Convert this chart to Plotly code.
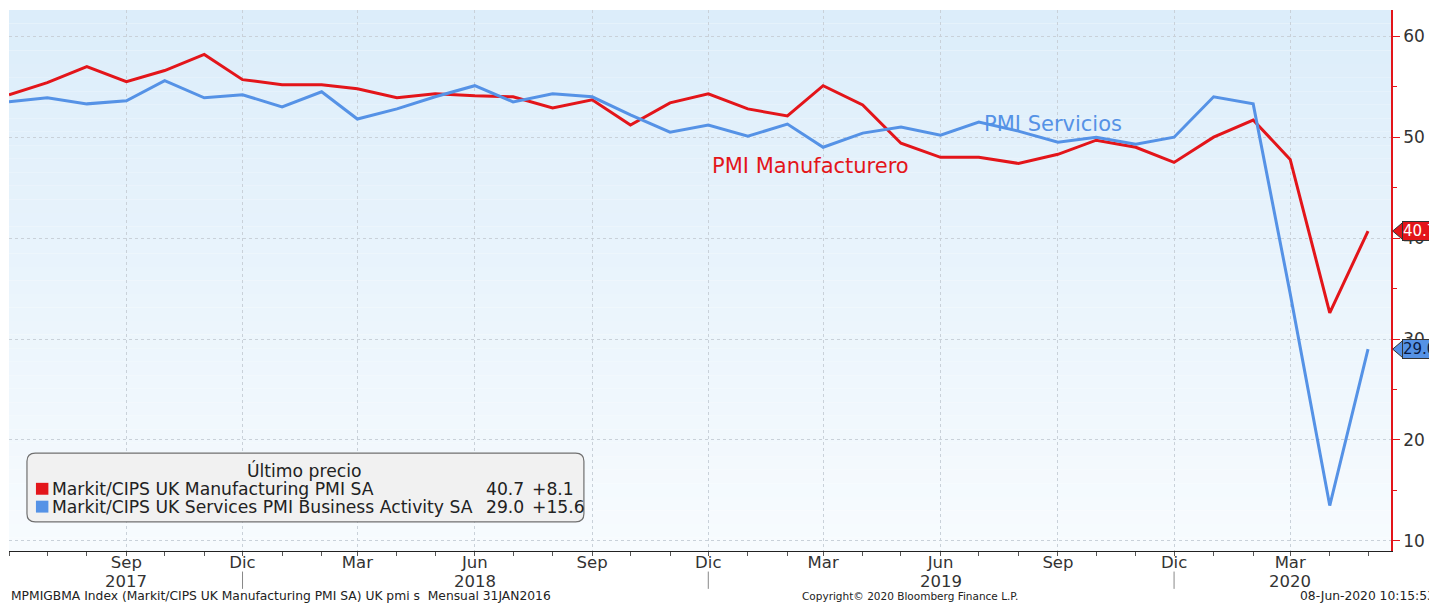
import pandas as pd
import plotly.graph_objects as go

# monthly PMI readings, Jun 2017 .. May 2020
months = pd.date_range("2017-06-01", periods=36, freq="MS")
manufacturing = [54.2, 55.4, 57.0, 55.5, 56.6, 58.2, 55.7, 55.2, 55.2, 54.8, 53.9, 54.3,
                 54.1, 54.0, 52.9, 53.7, 51.2, 53.4, 54.3, 52.8, 52.1, 55.1, 53.2, 49.4,
                 48.0, 48.0, 47.4, 48.3, 49.7, 49.0, 47.5, 50.0, 51.7, 47.8, 32.6, 40.7]
services = [53.5, 53.9, 53.3, 53.6, 55.6, 53.9, 54.2, 53.0, 54.5, 51.8, 52.8, 54.0,
            55.1, 53.5, 54.3, 54.0, 52.2, 50.5, 51.2, 50.1, 51.3, 49.0, 50.4, 51.0,
            50.2, 51.5, 50.6, 49.5, 50.0, 49.3, 50.0, 54.0, 53.3, 34.5, 13.5, 29.0]

tick_dates = pd.date_range("2017-09-01", "2020-03-01", freq="3MS")
tick_text = ["Sep", "Dic", "Mar", "Jun", "Sep", "Dic", "Mar", "Jun", "Sep", "Dic", "Mar"]
year_labels = ["2017", "2018", "2019", "2020"]
year_label_dates = ["2017-09-01", "2018-06-01", "2019-06-01", "2020-03-01"]
year_breaks = ["2017-12-01", "2018-12-01", "2019-12-01"]

legend_title = "Último precio"
legend_rows = [("Markit/CIPS UK Manufacturing PMI SA", "40.7", "+8.1"),
               ("Markit/CIPS UK Services PMI Business Activity SA", "29.0", "+15.6")]

RED = "#e3151a"
BLUE = "#5592e6"
FONT = "DejaVu Sans"
TXT = "#222"

fig = go.Figure()
fig.add_trace(go.Scatter(x=months, y=manufacturing, mode="lines",
                         line=dict(color=RED, width=3), name="PMI Manufacturero"))
fig.add_trace(go.Scatter(x=months, y=services, mode="lines",
                         line=dict(color=BLUE, width=3), name="PMI Servicios"))

shapes = []
# light blue gradient background of the plot area
n = 40
top, bot = (220, 237, 250), (247, 251, 254)
for i in range(n):
    f = i / (n - 1)
    c = tuple(round(bot[k] + (top[k] - bot[k]) * f) for k in range(3))
    shapes.append(dict(type="rect", xref="paper", yref="paper", x0=0, x1=1,
                       y0=i / n, y1=(i + 1) / n, line=dict(width=0),
                       fillcolor="rgb(%d,%d,%d)" % c, layer="below"))

# year separators under the axis
for d in year_breaks:
    shapes.append(dict(type="line", xref="x", yref="paper", x0=d, x1=d,
                       y0=-0.038, y1=-0.07, line=dict(color="#888", width=1)))

# legend box
lx0, lx1, ly0, ly1, r = 0.013, 0.416, 0.054, 0.181, 0.006
shapes.append(dict(type="path", xref="paper", yref="paper",
                   path=(f"M {lx0+r},{ly0} L {lx1-r},{ly0} Q {lx1},{ly0} {lx1},{ly0+r*2.5} "
                         f"L {lx1},{ly1-r*2.5} Q {lx1},{ly1} {lx1-r},{ly1} "
                         f"L {lx0+r},{ly1} Q {lx0},{ly1} {lx0},{ly1-r*2.5} "
                         f"L {lx0},{ly0+r*2.5} Q {lx0},{ly0} {lx0+r},{ly0} Z"),
                   line=dict(color="#707070", width=1.2), fillcolor="#f1f1f1"))

leg_font = dict(family=FONT, size=17.2, color=TXT)
annotations = [
    dict(text=legend_title, x=0.214, y=0.148, xref="paper", yref="paper",
         xanchor="center", yanchor="middle", showarrow=False, font=leg_font),
]
for (label, last, chg), color, yy in zip(legend_rows, [RED, BLUE], [0.115, 0.082]):
    shapes.append(dict(type="rect", xref="paper", yref="paper",
                       x0=0.0195, x1=0.0285, y0=yy - 0.011, y1=yy + 0.011,
                       line=dict(width=0), fillcolor=color))
    annotations.append(dict(text=label, x=0.0318, xshift=-3, y=yy, xref="paper", yref="paper",
                            xanchor="left", yanchor="middle", showarrow=False, font=leg_font))
    annotations.append(dict(text=last, x=0.3686, xshift=8, y=yy, xref="paper", yref="paper",
                            xanchor="right", yanchor="middle", showarrow=False, font=leg_font))
    annotations.append(dict(text=chg, x=0.374, xshift=4, y=yy, xref="paper", yref="paper",
                            xanchor="left", yanchor="middle", showarrow=False, font=leg_font))

# series labels in the chart
annotations.append(dict(text="PMI Manufacturero", x="2019-02-19", y=47.1,
                        xanchor="center", yanchor="middle",
                        showarrow=False, font=dict(family=FONT, size=21, color=RED)))
annotations.append(dict(text="PMI Servicios", x="2019-08-28", y=51.3,
                        xanchor="center", yanchor="middle",
                        showarrow=False, font=dict(family=FONT, size=21, color=BLUE)))

# year labels under the month ticks
for lab, d in zip(year_labels, year_label_dates):
    annotations.append(dict(text=lab, x=d, y=-0.056, xref="x", yref="paper",
                            xanchor="center", yanchor="middle", showarrow=False,
                            font=dict(family=FONT, size=16.5, color="#333")))

# last value tags on the right axis
for val, fill, txt in [(manufacturing[-1], RED, "white"), (services[-1], BLUE, "#0a1a40")]:
    shapes.append(dict(type="path", xref="paper", yref="y",
                       path=f"M 1.0012,{val} L 1.0085,{val + 0.85} L 1.0085,{val - 0.85} Z",
                       line=dict(color="#333", width=1), fillcolor=fill))
    annotations.append(dict(text=f"{val:.1f}", x=1.0078, y=val, xref="paper", yref="y",
                            xanchor="left", yanchor="middle", showarrow=False, bgcolor=fill,
                            bordercolor="#333", borderwidth=1, borderpad=0,
                            font=dict(family=FONT, size=15, color=txt)))

# footer
foot = dict(family=FONT, size=12.3, color=TXT)
annotations += [
    dict(text="MPMIGBMA Index (Markit/CIPS UK Manufacturing PMI SA) UK pmi s  Mensual 31JAN2016",
         x=0.0, xshift=0, y=-0.083, xref="paper", yref="paper", xanchor="left", yanchor="middle",
         showarrow=False, font=foot),
    dict(text="Copyright© 2020 Bloomberg Finance L.P.", x=0.652, y=-0.083,
         xref="paper", yref="paper", xanchor="center", yanchor="middle", showarrow=False,
         font=dict(family=FONT, size=10.5, color=TXT)),
    dict(text="08-Jun-2020 10:15:53", x=1.0, xshift=46, y=-0.083, xref="paper", yref="paper",
         xanchor="right", yanchor="middle", showarrow=False, font=foot),
]

# the page body adds an 8px offset, so the figure is sized to the visible window
fig.update_layout(
    width=1429, height=595,
    margin=dict(l=1, r=46, t=2, b=52, autoexpand=False),
    paper_bgcolor="white", plot_bgcolor="rgba(0,0,0,0)",
    showlegend=False,
    shapes=shapes, annotations=annotations,
    font=dict(family=FONT, size=16, color="#333"),
)
fig.update_xaxes(
    range=["2017-06-01", "2020-05-19"], automargin=False,
    tickvals=tick_dates, ticktext=tick_text, ticklabelstandoff=-8,
    showline=True, linecolor="#222", linewidth=1,
    ticks="outside", ticklen=4, tickcolor="#555",
    minor=dict(dtick="M1", ticks="outside", ticklen=4, tickcolor="#555", showgrid=False),
    showgrid=True, gridcolor="#c9d1d9", griddash="dot", gridwidth=1,
    tickfont=dict(size=16.5, color="#333"), zeroline=False,
)
fig.update_yaxes(
    side="right", range=[9, 62.6], dtick=10, tick0=0, automargin=False,
    showline=True, linecolor=RED, linewidth=1.5,
    ticks="outside", ticklen=7, tickcolor=RED,
    minor=dict(dtick=5, ticks="outside", ticklen=4, tickcolor=RED, showgrid=False),
    showgrid=True, gridcolor="#c9d1d9", griddash="dot", gridwidth=1,
    tickfont=dict(size=17, color="#333"), zeroline=False,
)

fig.write_html("out.html")
